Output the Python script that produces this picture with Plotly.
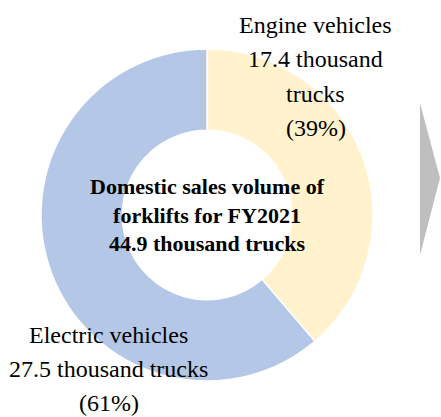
import plotly.graph_objects as go

# ---- data ----
categories = ["Engine vehicles", "Electric vehicles"]
values = [17.4, 27.5]          # thousand trucks
colors = ["#FFF2CC", "#B4C7E7"]
total_label = ["Domestic sales volume of", "forklifts for FY2021"]
unit = "thousand trucks"

W, H = 441, 417
total = sum(values)
pcts = [round(v / total * 100) for v in values]

fig = go.Figure()
fig.add_trace(go.Pie(
    labels=categories,
    values=values,
    hole=0.51,
    sort=False,
    direction="clockwise",
    rotation=0,
    textinfo="none",
    hoverinfo="label+value+percent",
    marker=dict(colors=colors, line=dict(color="white", width=1.5)),
    domain=dict(x=[(207 - 166) / W, (207 + 166) / W],
                y=[(202 - 166) / H, (202 + 166) / H]),
    showlegend=False,
))

FONT = "Liberation Serif, Times New Roman, serif"
ann = []

def lines_at(lines, cx, first_center, step):
    for i, t in enumerate(lines):
        ann.append(dict(
            text=t, x=cx / W, y=1 - (first_center + i * step) / H,
            xref="paper", yref="paper", xanchor="center", yanchor="middle",
            showarrow=False, font=dict(family=FONT, size=24, color="black")))

engine_lines = [categories[0], f"{values[0]:.1f} thousand", "trucks", f"({pcts[0]}%)"]
electric_lines = [categories[1], f"{values[1]:.1f} {unit}", f"({pcts[1]}%)"]
lines_at(engine_lines, 315.5, 25, 34.3)
lines_at(electric_lines, 108.5, 335, 34)

ann.append(dict(
    text="<b>" + "<br>".join(total_label + [f"{total:.1f} {unit}"]) + "</b>",
    x=207 / W, y=1 - 215 / H, xref="paper", yref="paper",
    xanchor="center", yanchor="middle", showarrow=False,
    font=dict(family=FONT, size=22, color="black")))

# grey chevron on the right
def px(x, y):
    return f"{x / W},{1 - y / H}"

shapes = [dict(type="path", xref="paper", yref="paper",
               path=f"M {px(420,103)} L {px(440,178)} L {px(420,255)} Z",
               fillcolor="#BFBFBF", line=dict(width=0))]

fig.update_layout(
    width=W, height=H,
    margin=dict(l=0, r=0, t=0, b=0),
    paper_bgcolor="white", plot_bgcolor="white",
    annotations=ann, shapes=shapes,
)

fig.write_html("out.html")
